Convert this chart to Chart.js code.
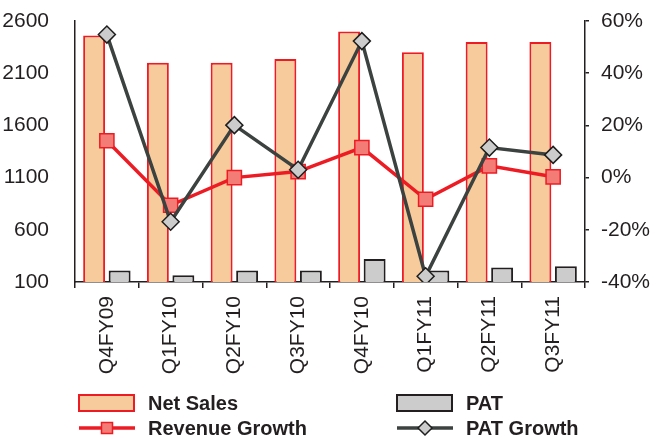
<!DOCTYPE html>
<html>
<head>
<meta charset="utf-8">
<script src="https://cdn.jsdelivr.net/npm/chart.js@4.4.1/dist/chart.umd.min.js"></script>
<style>
  html, body { margin: 0; padding: 0; background: #fff; }
  #wrap { width: 656px; height: 439px; }
</style>
</head>
<body>
<div id="wrap"><canvas id="chart" width="656" height="439"></canvas></div>
<script>
// --- chart data ---
const categories = ['Q4FY09', 'Q1FY10', 'Q2FY10', 'Q3FY10', 'Q4FY10', 'Q1FY11', 'Q2FY11', 'Q3FY11'];
const netSales = [2460, 2200, 2200, 2235, 2500, 2300, 2400, 2400];
const pat = [210, 165, 210, 210, 320, 210, 240, 250];
const revenueGrowth = [14.1, -10.6, 0, 2.3, 11.5, -8.3, 4.5, 0.3];
const patGrowth = [54.8, -16.9, 20.1, 3, 52.3, -37.8, 11.5, 8.7];
const leftTicks = [100, 600, 1100, 1600, 2100, 2600];
const rightTicks = [-40, -20, 0, 20, 40, 60];
// --- end chart data ---

const ink = '#231F20';
const font = "'Liberation Sans', Arial, sans-serif";

// legend drawn by hand: two columns, two rows under the axis labels
const legendPlugin = {
    id: 'twoColLegend',
    afterDraw(chart) {
        const ctx = chart.ctx;
        const ds = chart.data.datasets;
        const cols = [79, 397];
        const rows = [403, 428];
        const slots = [[0, 0, 0], [1, 1, 0], [2, 0, 1], [3, 1, 1]];
        ctx.save();
        slots.forEach(([i, c, r]) => {
            const d = ds[i];
            const x = cols[c], y = rows[r];
            if (d.type === 'bar') {
                ctx.fillStyle = d.backgroundColor;
                ctx.strokeStyle = d.borderColor;
                ctx.lineWidth = 2;
                ctx.fillRect(x, y - 8, 55, 16);
                ctx.strokeRect(x, y - 8, 55, 16);
            } else {
                ctx.strokeStyle = d.borderColor;
                ctx.lineWidth = d.borderWidth;
                ctx.beginPath();
                ctx.moveTo(x, y);
                ctx.lineTo(x + 56, y);
                ctx.stroke();
                ctx.fillStyle = d.pointBackgroundColor;
                ctx.strokeStyle = d.pointBorderColor;
                ctx.lineWidth = 1.5;
                ctx.beginPath();
                const cx = x + 28;
                if (d.pointStyle === 'rect') {
                    ctx.rect(cx - 5.5, y - 5.5, 11, 11);
                } else {
                    ctx.moveTo(cx - 7, y);
                    ctx.lineTo(cx, y - 7);
                    ctx.lineTo(cx + 7, y);
                    ctx.lineTo(cx, y + 7);
                    ctx.closePath();
                }
                ctx.fill();
                ctx.stroke();
            }
            ctx.fillStyle = ink;
            ctx.font = 'bold 20px ' + font;
            ctx.textBaseline = 'middle';
            ctx.textAlign = 'left';
            ctx.fillText(d.label, x + 69, y + 1);
        });
        ctx.restore();
    }
};

// fixed axis widths, no extra padding from the tick labels
function fixWidth(w) {
    return function (scale) {
        scale.width = w;
        scale.paddingTop = 0;
        scale.paddingBottom = 0;
    };
}

const ctx = document.getElementById('chart').getContext('2d');
new Chart(ctx, {
    data: {
        labels: categories,
        datasets: [
            {
                type: 'bar', label: 'Net Sales', data: netSales, yAxisID: 'y',
                backgroundColor: '#F7CB9B', borderColor: '#ED1C24', borderWidth: 2,
                categoryPercentage: 0.8, barPercentage: 0.86, order: 2
            },
            {
                type: 'bar', label: 'PAT', data: pat, yAxisID: 'y',
                backgroundColor: '#CCCCCC', borderColor: ink, borderWidth: 2,
                categoryPercentage: 0.8, barPercentage: 0.86, order: 3
            },
            {
                type: 'line', label: 'Revenue Growth', data: revenueGrowth, yAxisID: 'y1',
                borderColor: '#ED1C24', borderWidth: 3.5, tension: 0,
                pointStyle: 'rect', pointRadius: 10, pointBackgroundColor: '#F47C76',
                pointBorderColor: '#ED1C24', pointBorderWidth: 1.5, order: 1
            },
            {
                type: 'line', label: 'PAT Growth', data: patGrowth, yAxisID: 'y1',
                borderColor: '#3B423F', borderWidth: 3.5, tension: 0,
                pointStyle: 'rectRot', pointRadius: 8.5, pointBackgroundColor: '#CCCCCC',
                pointBorderColor: '#1E1E1E', pointBorderWidth: 1.5, order: 0
            }
        ]
    },
    options: {
        responsive: false,
        animation: false,
        layout: { padding: { top: 21, left: 0, right: 0, bottom: 0 } },
        plugins: { legend: { display: false }, tooltip: { enabled: false } },
        scales: {
            x: {
                offset: true,
                grid: { offset: true, drawOnChartArea: false, drawTicks: true, tickLength: 6, color: ink, lineWidth: 1.5 },
                border: { display: true, color: ink, width: 1.5 },
                ticks: {
                    color: ink, font: { family: font, size: 21 },
                    minRotation: 90, maxRotation: 90, autoSkip: false, padding: 8
                },
                afterFit(scale) { scale.height = 157; }
            },
            y: {
                position: 'left', min: leftTicks[0], max: leftTicks[leftTicks.length - 1],
                afterBuildTicks(scale) { scale.ticks = leftTicks.map(v => ({ value: v })); },
                grid: { display: false },
                border: { display: true, color: ink, width: 1.5 },
                ticks: { color: ink, font: { family: font, size: 21 }, padding: 18, callback: v => String(v) },
                afterFit: fixWidth(75)
            },
            y1: {
                position: 'right', min: rightTicks[0], max: rightTicks[rightTicks.length - 1],
                afterBuildTicks(scale) { scale.ticks = rightTicks.map(v => ({ value: v })); },
                grid: { drawOnChartArea: false, drawTicks: true, tickLength: 4, color: ink, lineWidth: 1.5 },
                border: { display: true, color: ink, width: 1.5 },
                ticks: { color: ink, font: { family: font, size: 21 }, padding: 12, callback: v => v + '%' },
                afterFit: fixWidth(71)
            }
        }
    },
    plugins: [legendPlugin]
});
</script>
</body>
</html>
